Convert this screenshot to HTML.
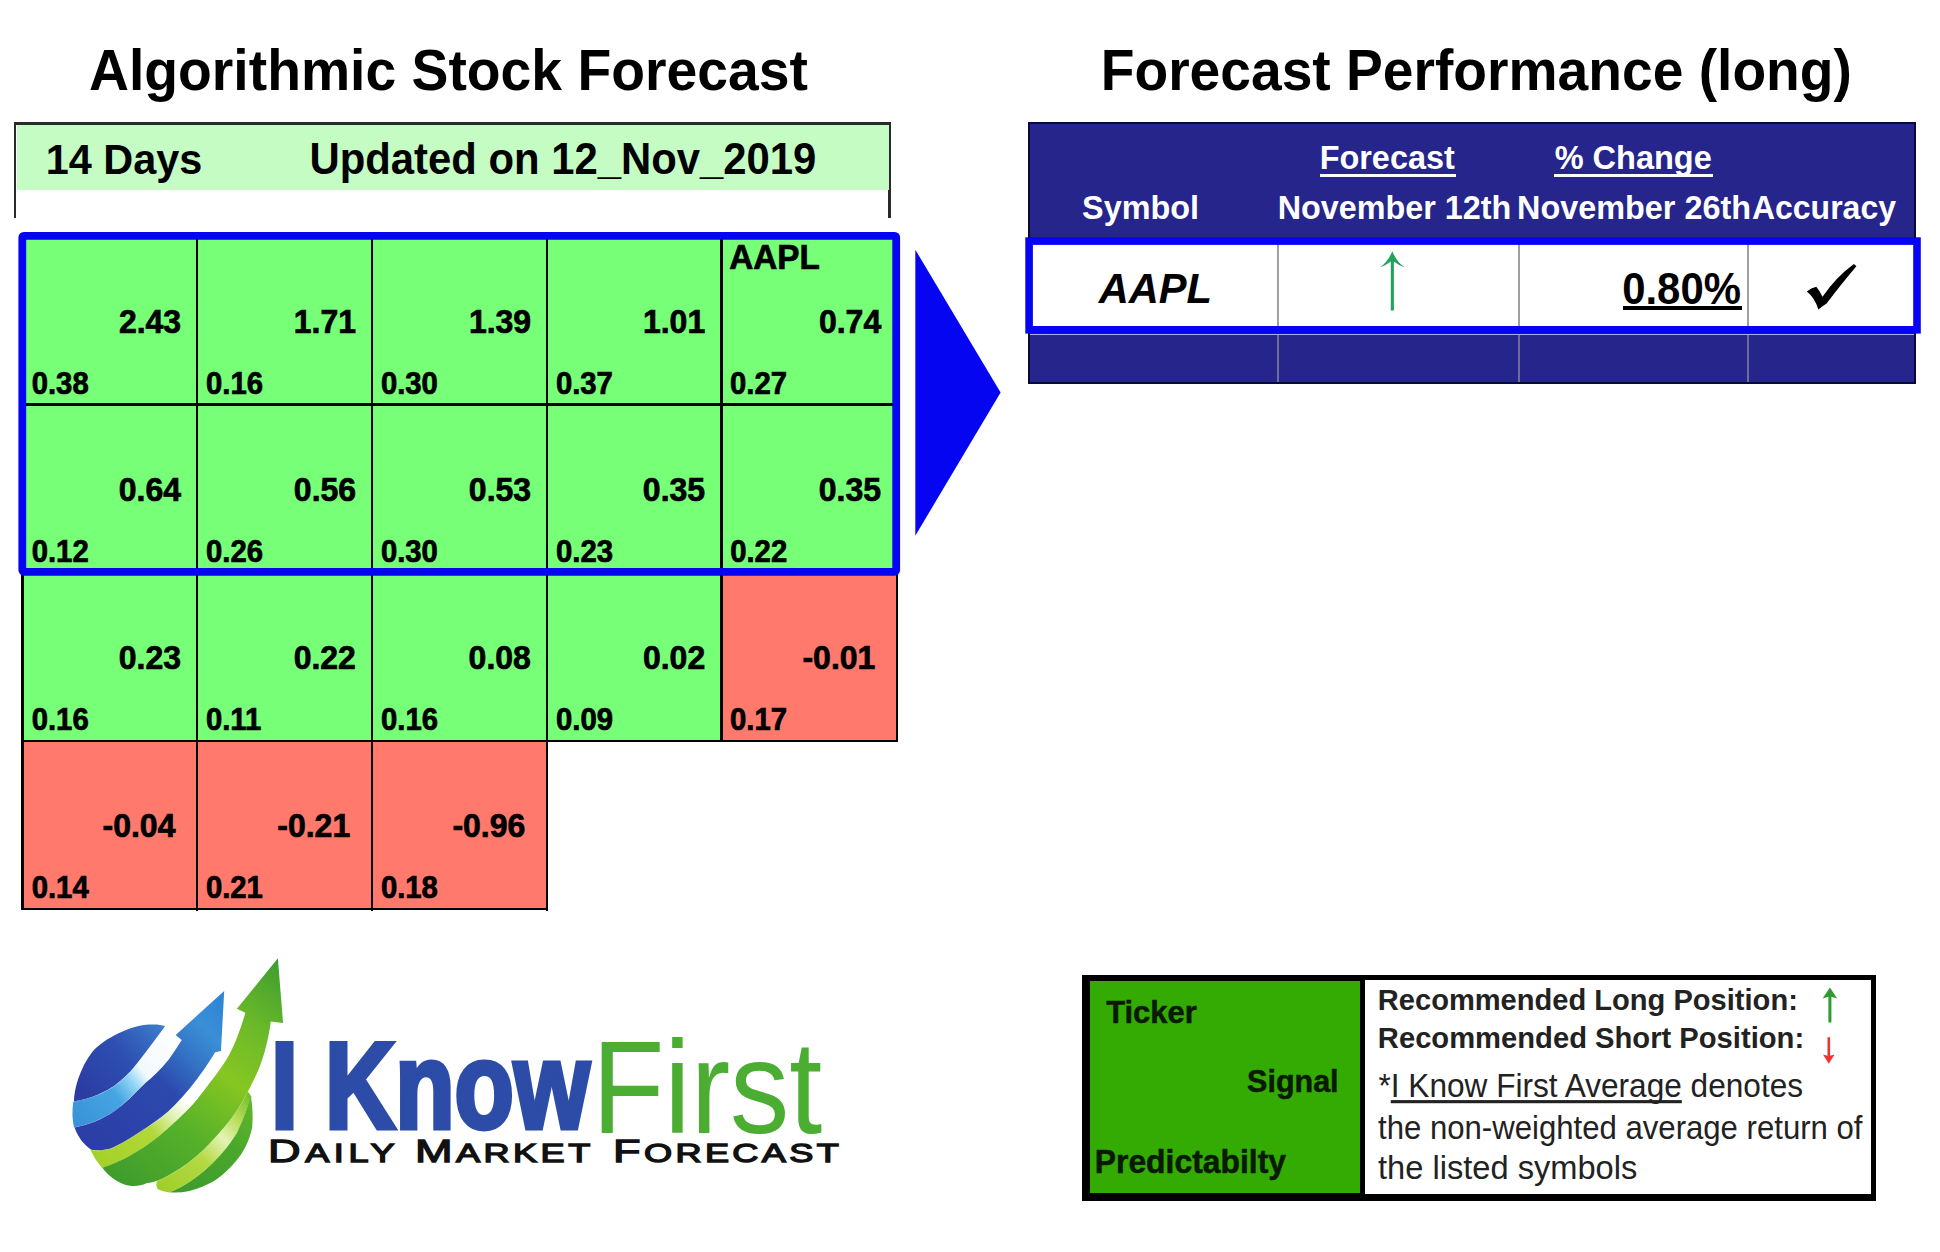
<!DOCTYPE html>
<html lang="en"><head><meta charset="utf-8"><title>Algorithmic Stock Forecast</title>
<style>
html,body{margin:0;padding:0;background:#fff}
body{width:1940px;height:1252px;position:relative;overflow:hidden;font-family:"Liberation Sans",sans-serif;color:#000}
.a{position:absolute}
.x{position:absolute;white-space:nowrap;line-height:1;font-weight:bold}
.n{position:absolute;white-space:nowrap;line-height:1;font-weight:normal}
.g{-webkit-text-stroke:0.7px #000}
.ln{position:absolute;background:#000}
.sc::first-letter{font-size:32.2px}
</style></head><body>

<div class="x" id="title1" style="left:89.04px;top:44.33px;font-size:55.29px;transform-origin:0 46.81px;transform:scale(1.0000,1.0420);">Algorithmic Stock Forecast</div>
<div class="x" id="title2" style="left:1100.74px;top:44.45px;font-size:55.18px;transform-origin:0 46.72px;transform:scale(1.0000,1.0420);">Forecast Performance (long)</div>
<div class="a" style="left:14px;top:122px;width:872px;height:92.5px;border:3px solid #2a2a2a;border-left-width:2.5px;border-bottom:none"></div>
<div class="a" style="left:16.5px;top:125px;width:872px;height:64.7px;background:#c5fcc3"></div>
<div class="x" id="days" style="left:45.71px;top:138.91px;font-size:41.44px;transform-origin:0 35.09px;transform:scale(1.0000,1.0420);">14 Days</div>
<div class="x" id="upd" style="left:309.54px;top:138.58px;font-size:41.83px;transform-origin:0 35.42px;transform:scale(1.0000,1.0420);">Updated on 12_Nov_2019</div>
<div class="a" style="left:21.3px;top:238px;width:176.35px;height:167.39999999999998px;background:#78ff78"></div>
<div class="a" style="left:195.65px;top:238px;width:176.85px;height:167.39999999999998px;background:#78ff78"></div>
<div class="a" style="left:370.5px;top:238px;width:177.0px;height:167.39999999999998px;background:#78ff78"></div>
<div class="a" style="left:545.5px;top:238px;width:176.29999999999995px;height:167.39999999999998px;background:#78ff78"></div>
<div class="a" style="left:719.8px;top:238px;width:177.9000000000001px;height:167.39999999999998px;background:#78ff78"></div>
<div class="a" style="left:21.3px;top:403.4px;width:176.35px;height:170.20000000000005px;background:#78ff78"></div>
<div class="a" style="left:195.65px;top:403.4px;width:176.85px;height:170.20000000000005px;background:#78ff78"></div>
<div class="a" style="left:370.5px;top:403.4px;width:177.0px;height:170.20000000000005px;background:#78ff78"></div>
<div class="a" style="left:545.5px;top:403.4px;width:176.29999999999995px;height:170.20000000000005px;background:#78ff78"></div>
<div class="a" style="left:719.8px;top:403.4px;width:177.9000000000001px;height:170.20000000000005px;background:#78ff78"></div>
<div class="a" style="left:21.3px;top:571.6px;width:176.35px;height:170.0px;background:#78ff78"></div>
<div class="a" style="left:195.65px;top:571.6px;width:176.85px;height:170.0px;background:#78ff78"></div>
<div class="a" style="left:370.5px;top:571.6px;width:177.0px;height:170.0px;background:#78ff78"></div>
<div class="a" style="left:545.5px;top:571.6px;width:176.29999999999995px;height:170.0px;background:#78ff78"></div>
<div class="a" style="left:719.8px;top:571.6px;width:177.9000000000001px;height:170.0px;background:#ff7a6c"></div>
<div class="a" style="left:21.3px;top:739.6px;width:176.35px;height:170.0px;background:#ff7a6c"></div>
<div class="a" style="left:195.65px;top:739.6px;width:176.85px;height:170.0px;background:#ff7a6c"></div>
<div class="a" style="left:370.5px;top:739.6px;width:177.0px;height:170.0px;background:#ff7a6c"></div>
<div class="x g" id="big00" style="left:118.89px;top:306.21px;font-size:32.00px;transform-origin:0 27.09px;transform:scale(1.0000,1.0420);">2.43</div>
<div class="x g" id="sm00" style="left:31.68px;top:369.08px;font-size:29.30px;transform-origin:0 24.81px;transform:scale(1.0000,1.0420);">0.38</div>
<div class="x g" id="big01" style="left:293.78px;top:306.21px;font-size:32.00px;transform-origin:0 27.09px;transform:scale(1.0000,1.0420);">1.71</div>
<div class="x g" id="sm01" style="left:206.03px;top:369.10px;font-size:29.30px;transform-origin:0 24.81px;transform:scale(1.0000,1.0420);">0.16</div>
<div class="x g" id="big02" style="left:468.88px;top:306.21px;font-size:32.00px;transform-origin:0 27.09px;transform:scale(1.0000,1.0420);">1.39</div>
<div class="x g" id="sm02" style="left:380.88px;top:369.08px;font-size:29.30px;transform-origin:0 24.81px;transform:scale(1.0000,1.0420);">0.30</div>
<div class="x g" id="big03" style="left:642.92px;top:306.21px;font-size:32.00px;transform-origin:0 27.09px;transform:scale(1.0000,1.0420);">1.01</div>
<div class="x g" id="sm03" style="left:555.88px;top:369.10px;font-size:29.30px;transform-origin:0 24.81px;transform:scale(1.0000,1.0420);">0.37</div>
<div class="x g" id="lab04" style="left:729.28px;top:241.40px;font-size:33.30px;transform-origin:0 28.20px;transform:scale(1.0000,1.0420);">AAPL</div>
<div class="x g" id="big04" style="left:818.92px;top:306.21px;font-size:32.00px;transform-origin:0 27.09px;transform:scale(1.0000,1.0420);">0.74</div>
<div class="x g" id="sm04" style="left:730.09px;top:369.10px;font-size:29.30px;transform-origin:0 24.81px;transform:scale(1.0000,1.0420);">0.27</div>
<div class="x g" id="big10" style="left:118.77px;top:474.41px;font-size:32.00px;transform-origin:0 27.09px;transform:scale(1.0000,1.0420);">0.64</div>
<div class="x g" id="sm10" style="left:31.68px;top:536.59px;font-size:29.30px;transform-origin:0 24.81px;transform:scale(1.0000,1.0420);">0.12</div>
<div class="x g" id="big11" style="left:293.85px;top:474.41px;font-size:32.00px;transform-origin:0 27.09px;transform:scale(1.0000,1.0420);">0.56</div>
<div class="x g" id="sm11" style="left:206.03px;top:536.59px;font-size:29.30px;transform-origin:0 24.81px;transform:scale(1.0000,1.0420);">0.26</div>
<div class="x g" id="big12" style="left:468.86px;top:474.41px;font-size:32.00px;transform-origin:0 27.09px;transform:scale(1.0000,1.0420);">0.53</div>
<div class="x g" id="sm12" style="left:380.88px;top:536.59px;font-size:29.30px;transform-origin:0 24.81px;transform:scale(1.0000,1.0420);">0.30</div>
<div class="x g" id="big13" style="left:642.84px;top:474.41px;font-size:32.00px;transform-origin:0 27.09px;transform:scale(1.0000,1.0420);">0.35</div>
<div class="x g" id="sm13" style="left:556.02px;top:536.59px;font-size:29.30px;transform-origin:0 24.81px;transform:scale(1.0000,1.0420);">0.23</div>
<div class="x g" id="big14" style="left:818.74px;top:474.41px;font-size:32.00px;transform-origin:0 27.09px;transform:scale(1.0000,1.0420);">0.35</div>
<div class="x g" id="sm14" style="left:730.18px;top:536.59px;font-size:29.30px;transform-origin:0 24.81px;transform:scale(1.0000,1.0420);">0.22</div>
<div class="x g" id="big20" style="left:118.77px;top:642.41px;font-size:32.00px;transform-origin:0 27.09px;transform:scale(1.0000,1.0420);">0.23</div>
<div class="x g" id="sm20" style="left:31.68px;top:704.59px;font-size:29.30px;transform-origin:0 24.81px;transform:scale(1.0000,1.0420);">0.16</div>
<div class="x g" id="big21" style="left:293.63px;top:642.41px;font-size:32.00px;transform-origin:0 27.09px;transform:scale(1.0000,1.0420);">0.22</div>
<div class="x g" id="sm21" style="left:205.92px;top:704.59px;font-size:29.30px;transform-origin:0 24.81px;transform:scale(1.0000,1.0420);">0.11</div>
<div class="x g" id="big22" style="left:468.60px;top:642.41px;font-size:32.00px;transform-origin:0 27.09px;transform:scale(1.0000,1.0420);">0.08</div>
<div class="x g" id="sm22" style="left:381.02px;top:704.59px;font-size:29.30px;transform-origin:0 24.81px;transform:scale(1.0000,1.0420);">0.16</div>
<div class="x g" id="big23" style="left:642.92px;top:642.41px;font-size:32.00px;transform-origin:0 27.09px;transform:scale(1.0000,1.0420);">0.02</div>
<div class="x g" id="sm23" style="left:556.02px;top:704.59px;font-size:29.30px;transform-origin:0 24.81px;transform:scale(1.0000,1.0420);">0.09</div>
<div class="x g" id="big24" style="left:802.45px;top:642.41px;font-size:32.00px;transform-origin:0 27.09px;transform:scale(1.0000,1.0420);">-0.01</div>
<div class="x g" id="sm24" style="left:730.09px;top:704.59px;font-size:29.30px;transform-origin:0 24.81px;transform:scale(1.0000,1.0420);">0.17</div>
<div class="x g" id="big30" style="left:102.51px;top:810.41px;font-size:32.00px;transform-origin:0 27.09px;transform:scale(1.0000,1.0420);">-0.04</div>
<div class="x g" id="sm30" style="left:31.68px;top:872.59px;font-size:29.30px;transform-origin:0 24.81px;transform:scale(1.0000,1.0420);">0.14</div>
<div class="x g" id="big31" style="left:277.25px;top:810.41px;font-size:32.00px;transform-origin:0 27.09px;transform:scale(1.0000,1.0420);">-0.21</div>
<div class="x g" id="sm31" style="left:205.90px;top:872.59px;font-size:29.30px;transform-origin:0 24.81px;transform:scale(1.0000,1.0420);">0.21</div>
<div class="x g" id="big32" style="left:452.38px;top:810.41px;font-size:32.00px;transform-origin:0 27.09px;transform:scale(1.0000,1.0420);">-0.96</div>
<div class="x g" id="sm32" style="left:380.88px;top:872.59px;font-size:29.30px;transform-origin:0 24.81px;transform:scale(1.0000,1.0420);">0.18</div>
<div class="ln" style="left:21.3px;top:403.4px;width:873.2px;height:2.8px"></div>
<div class="ln" style="left:21.3px;top:739.6px;width:877.2px;height:2.8px"></div>
<div class="ln" style="left:21.3px;top:907.6px;width:527.0px;height:2.8px"></div>
<div class="ln" style="left:21.3px;top:572px;width:2.8px;height:338.4px"></div>
<div class="ln" style="left:195.65px;top:238px;width:2.8px;height:673.4px"></div>
<div class="ln" style="left:370.5px;top:238px;width:2.8px;height:673.4px"></div>
<div class="ln" style="left:545.5px;top:238px;width:2.8px;height:673.4px"></div>
<div class="ln" style="left:719.8px;top:238px;width:2.8px;height:504.4px"></div>
<div class="ln" style="left:895.7px;top:572px;width:2.8px;height:170.4px"></div>
<svg class="a" style="left:10px;top:225px" width="900" height="360" viewBox="10 225 900 360"><rect x="22.3" y="235.9" width="873.9" height="335.9" rx="1.5" fill="none" stroke="#0505f2" stroke-width="7.8"/></svg>
<svg class="a" style="left:910px;top:245px" width="100" height="296" viewBox="910 245 100 296"><polygon points="915.3,249.7 1000.6,392.5 915.3,535.7" fill="#0505f2"/></svg>
<div class="a" style="left:1027.5px;top:121.5px;width:884px;height:258px;background:#25258b;border:2px solid #0a0a38"></div>
<div class="a" style="left:1029px;top:240px;width:888px;height:93px;background:#fff"></div>
<div class="a" style="left:1029.5px;top:333.8px;width:884px;height:1.3px;background:#aeaeea"></div>
<div class="a" style="left:1277px;top:244px;width:2.3px;height:83px;background:#a0a0a0"></div>
<div class="a" style="left:1277px;top:335px;width:2.3px;height:47px;background:#6d6d9c"></div>
<div class="a" style="left:1517.6px;top:244px;width:2.3px;height:83px;background:#a0a0a0"></div>
<div class="a" style="left:1517.6px;top:335px;width:2.3px;height:47px;background:#6d6d9c"></div>
<div class="a" style="left:1746.7px;top:244px;width:2.3px;height:83px;background:#a0a0a0"></div>
<div class="a" style="left:1746.7px;top:335px;width:2.3px;height:47px;background:#6d6d9c"></div>
<svg class="a" style="left:1015px;top:230px" width="915" height="112" viewBox="1015 230 915 112"><rect x="1029.1" y="241.1" width="887.9" height="88.7" fill="none" stroke="#0505f2" stroke-width="7.6"/></svg>
<div class="x" id="h_sym" style="left:1082.09px;top:191.57px;font-size:32.40px;transform-origin:0 27.43px;transform:scale(1.0000,1.0420);color:#fff;">Symbol</div>
<div class="x" id="h_fc" style="left:1319.67px;top:142.16px;font-size:32.41px;transform-origin:0 27.44px;transform:scale(1.0000,1.0420);color:#fff;">Forecast</div>
<div class="a" style="left:1320.2px;top:173.8px;width:136.1px;height:3.7px;background:#fff"></div>
<div class="x" id="h_n12" style="left:1277.73px;top:191.62px;font-size:32.33px;transform-origin:0 27.38px;transform:scale(1.0000,1.0420);color:#fff;">November 12th</div>
<div class="x" id="h_pc" style="left:1554.69px;top:142.08px;font-size:32.50px;transform-origin:0 27.52px;transform:scale(1.0000,1.0420);color:#fff;">% Change</div>
<div class="a" style="left:1554px;top:173.8px;width:158.5px;height:3.7px;background:#fff"></div>
<div class="x" id="h_n26" style="left:1517.00px;top:191.57px;font-size:32.40px;transform-origin:0 27.43px;transform:scale(1.0000,1.0420);color:#fff;">November 26th</div>
<div class="x" id="h_acc" style="left:1751.90px;top:191.91px;font-size:32.00px;transform-origin:0 27.09px;transform:scale(1.0000,1.0420);color:#fff;">Accuracy</div>
<div class="x" id="d_aapl" style="left:1098.70px;top:268.01px;font-size:41.63px;transform-origin:0 35.24px;transform:scale(1.0000,1.0420);font-style:italic;">AAPL</div>
<div class="x" id="d_pct" style="left:1622.19px;top:269.26px;font-size:41.86px;transform-origin:0 35.45px;transform:scale(1.0000,1.0420);">0.80%</div>
<div class="a" style="left:1622.5px;top:306.2px;width:119.5px;height:3.8px;background:#000"></div>
<svg class="a" style="left:1370px;top:246px" width="46" height="70" viewBox="1370 246 46 70">
<path d="M1392.3 251.2 Q1388 262 1379.6 267.6 Q1386 265.5 1390.8 261.6 L1390.8 310.6 L1393.9 310.6 L1393.9 261.6 Q1398.6 265.5 1405 267.6 Q1396.6 262 1392.3 251.2 Z" fill="#1fa45a"/></svg>
<svg class="a" style="left:1800px;top:258px" width="64" height="58" viewBox="1800 258 64 58">
<path d="M1806.8 291.6 Q1811 287.6 1816.3 286.7 Q1820 291 1822.5 296.8 Q1836 277 1853.9 264 L1856.4 266.2 Q1838.8 287 1826.6 303.6 Q1822 306.5 1818.4 309.5 Q1814.5 297.5 1806.8 291.6 Z" fill="#000"/></svg>
<div class="a" style="left:1082.3px;top:974.6px;width:794px;height:226px;background:#000"></div>
<div class="a" style="left:1089.5px;top:981px;width:270.5px;height:212px;background:#33ab02"></div>
<div class="a" style="left:1365px;top:980px;width:506.2px;height:214.2px;background:#fff"></div>
<div class="x" id="l_tick" style="left:1106.24px;top:997.92px;font-size:30.88px;transform-origin:0 26.15px;transform:scale(1.0000,1.0420);color:#0a1a00;-webkit-text-stroke:0.5px #0a1a00;">Ticker</div>
<div class="x" id="l_sig" style="left:1247.12px;top:1066.29px;font-size:30.49px;transform-origin:0 25.81px;transform:scale(1.0000,1.0420);color:#0a1a00;-webkit-text-stroke:0.5px #0a1a00;">Signal</div>
<div class="x" id="l_pred" style="left:1094.72px;top:1146.50px;font-size:31.89px;transform-origin:0 27.00px;transform:scale(1.0000,1.0420);color:#0a1a00;-webkit-text-stroke:0.5px #0a1a00;">Predictabilty</div>
<div class="x" id="r1" style="left:1377.80px;top:985.81px;font-size:29.08px;transform-origin:0 24.62px;transform:scale(1.0000,1.0420);color:#222;">Recommended Long Position:</div>
<div class="x" id="r2" style="left:1377.85px;top:1023.50px;font-size:29.18px;transform-origin:0 24.70px;transform:scale(1.0000,1.0420);color:#222;">Recommended Short Position:</div>
<div class="n" id="r3" style="left:1378.45px;top:1070.63px;font-size:31.62px;transform-origin:0 26.77px;transform:scale(1.0000,1.0420);color:#222;">*<span style="text-decoration:underline;text-decoration-thickness:2.6px;text-underline-offset:3px;text-decoration-skip-ink:none">I Know First Average</span> denotes</div>
<div class="n" id="r4" style="left:1378.00px;top:1112.80px;font-size:31.14px;transform-origin:0 26.36px;transform:scale(1.0000,1.0420);color:#222;">the non-weighted average return of</div>
<div class="n" id="r5" style="left:1378.00px;top:1151.86px;font-size:32.64px;transform-origin:0 27.64px;transform:scale(1.0000,1.0420);color:#222;">the listed symbols</div>
<svg class="a" style="left:1815px;top:984px" width="30" height="84" viewBox="1815 984 30 84">
<path d="M1829.9 987.5 L1837.2 998.5 L1831.4 996.8 L1831.4 1022.4 L1828.4 1022.4 L1828.4 996.8 L1822.6 998.5 Z" fill="#2f9a30"/>
<path d="M1828.8 1063.8 L1834.6 1054.5 L1830.1 1055.8 L1830.1 1037.2 L1827.5 1037.2 L1827.5 1055.8 L1823 1054.5 Z" fill="#f03232"/></svg>
<svg class="a" style="left:50px;top:940px" width="260" height="270" viewBox="0 0 1206 1252">
<defs>
<linearGradient id="gB" gradientUnits="userSpaceOnUse" x1="150" y1="720" x2="520" y2="400"><stop offset="0" stop-color="#2b3ca3"/><stop offset="0.55" stop-color="#2e4fb2"/><stop offset="1" stop-color="#3c7ccc"/></linearGradient>
<linearGradient id="gB2" gradientUnits="userSpaceOnUse" x1="160" y1="950" x2="800" y2="300"><stop offset="0" stop-color="#2b3da6"/><stop offset="0.5" stop-color="#2c49ae"/><stop offset="0.72" stop-color="#3579c8"/><stop offset="0.85" stop-color="#3a8fd6"/><stop offset="1" stop-color="#2f86d4"/></linearGradient>
<linearGradient id="gL" gradientUnits="userSpaceOnUse" x1="110" y1="820" x2="600" y2="440"><stop offset="0" stop-color="#3a93d8"/><stop offset="0.35" stop-color="#45a5e2"/><stop offset="0.5" stop-color="#8fd3f4"/><stop offset="0.62" stop-color="#f2faff"/><stop offset="1" stop-color="#ffffff"/></linearGradient>
<linearGradient id="gG" gradientUnits="userSpaceOnUse" x1="300" y1="1120" x2="1060" y2="100"><stop offset="0" stop-color="#3f9c2c"/><stop offset="0.3" stop-color="#55b02a"/><stop offset="0.55" stop-color="#86c621"/><stop offset="0.75" stop-color="#6cba29"/><stop offset="1" stop-color="#3f9e2f"/></linearGradient>
<linearGradient id="gG2" gradientUnits="userSpaceOnUse" x1="560" y1="1170" x2="950" y2="740"><stop offset="0" stop-color="#3b9a2c"/><stop offset="0.6" stop-color="#4aa72c"/><stop offset="1" stop-color="#62b82a"/></linearGradient>
<linearGradient id="gY" gradientUnits="userSpaceOnUse" x1="220" y1="1040" x2="760" y2="560"><stop offset="0" stop-color="#a3d128"/><stop offset="0.4" stop-color="#b2d838"/><stop offset="0.58" stop-color="#e4f3c0"/><stop offset="0.7" stop-color="#ffffff"/><stop offset="1" stop-color="#ffffff"/></linearGradient>
<linearGradient id="gY2" gradientUnits="userSpaceOnUse" x1="500" y1="1150" x2="930" y2="720"><stop offset="0" stop-color="#9fce28"/><stop offset="0.4" stop-color="#b4d944"/><stop offset="0.62" stop-color="#e4f3b4"/><stop offset="0.8" stop-color="#b8dc58"/><stop offset="1" stop-color="#74bd2c"/></linearGradient>
</defs>
<!-- light band / highlight between cap and blue band -->
<path d="M111 752 C150 746 190 735 226 720 C264 704 302 684 345 643 C388 603 423 553 463 501 C492 463 514 433 536 402 L583 441 L609 461 C590 490 570 520 550 550 C510 600 475 630 432 668 C390 710 345 755 301 788 C240 830 180 852 114 866 C106 830 105 790 111 752 Z" fill="url(#gL)" stroke="url(#gL)" stroke-width="6"/>
<!-- light green stripe under blue band, fading to white -->
<path d="M193 977 C227 982 262 979 297 965 C352 939 402 904 452 872 C497 844 542 809 582 768 C627 722 672 669 711 612 C730 586 747 559 768 525 L800 515 C790 530 800 545 815 557 C790 595 765 630 740 660 C715 695 688 730 658 764 C610 815 560 860 502 909 C420 975 330 1025 243 1054 C222 1030 205 1005 193 977 Z" fill="url(#gY)" stroke="url(#gY)" stroke-width="6"/>
<!-- light stripe lower right -->
<path d="M499 1120 C572 1088 642 1043 712 978 C757 933 802 883 841 833 C858 809 874 785 890 759 C900 742 910 725 918 708 L932 728 L917 760 C902 810 885 850 865 893 C830 950 785 1005 735 1049 C680 1100 620 1140 554 1168 C535 1166 517 1161 502 1153 C495 1143 495 1130 499 1120 Z" fill="url(#gY2)" stroke="url(#gY2)" stroke-width="6"/>
<!-- cap (leaf) -->
<path d="M111 748 C112 690 140 590 195 520 C250 455 380 395 461 392 C490 390 515 392 534 399 C512 430 490 460 461 497 C420 550 385 600 343 639 C300 680 262 700 224 716 C188 731 150 742 111 748 Z" fill="url(#gB)"/>
<!-- blue band + arrow -->
<path d="M114 870 C180 856 240 834 301 792 C345 760 390 715 432 673 C475 635 512 603 552 553 C572 524 592 494 611 464 L583 440 L808 236 L793 515 L766 521 C745 555 728 582 709 608 C670 665 625 718 580 764 C540 805 495 840 450 868 C400 900 350 935 295 961 C260 975 225 978 191 973 C155 948 130 915 114 870 Z" fill="url(#gB2)"/>
<!-- main green arrow -->
<path d="M243 1056 C330 1027 420 977 502 912 C560 863 610 818 658 767 C688 733 715 698 740 663 C765 633 790 598 815 560 C835 528 850 495 864 461 C880 420 895 378 906 337 L867 319 L1057 85 L1081 385 L1024 378 C1018 425 1008 475 995 520 C980 572 960 622 935 669 C920 700 905 728 888 756 C872 782 856 806 839 830 C800 880 755 930 710 975 C640 1040 570 1085 497 1117 C482 1123 466 1126 450 1127 C422 1140 398 1143 372 1140 C330 1132 297 1112 269 1086 C258 1076 250 1066 243 1056 Z" fill="url(#gG)"/>
<!-- lower right swoosh -->
<path d="M556 1170 C622 1142 682 1102 737 1051 C787 1007 832 952 867 895 C887 852 904 812 919 762 L932 727 C940 770 942 820 938 868 C925 930 900 980 865 1023 C820 1078 770 1120 709 1143 C660 1165 605 1175 556 1170 Z" fill="url(#gG2)"/>
</svg>

<div class="x" id="lk" style="left:270.71px;top:1025.63px;font-size:121.50px;transform-origin:0 102.87px;transform:scale(0.8000,1.0000);color:#2c4ca8;-webkit-text-stroke:5px #2c4ca8;">I Know</div>
<div class="n" id="lf" style="left:591.96px;top:1026.93px;font-size:126.00px;transform-origin:0 106.68px;transform:scale(0.9401,1.0450);color:#4bae33;">First</div>
<div class="n sc" id="ldA" style="left:268.18px;top:1131.08px;font-size:25.8px;line-height:40px;letter-spacing:3.291px;transform-origin:0 0;transform:scale(1.4,1);color:#111;-webkit-text-stroke:1.3px #111;">DAILY</div>
<div class="n sc" id="ldB" style="left:415.08px;top:1131.08px;font-size:25.8px;line-height:40px;letter-spacing:2.466px;transform-origin:0 0;transform:scale(1.4,1);color:#111;-webkit-text-stroke:1.3px #111;">MARKET</div>
<div class="n sc" id="ldC" style="left:613.10px;top:1131.08px;font-size:25.8px;line-height:40px;letter-spacing:2.418px;transform-origin:0 0;transform:scale(1.4,1);color:#111;-webkit-text-stroke:1.3px #111;">FORECAST</div>
</body></html>
